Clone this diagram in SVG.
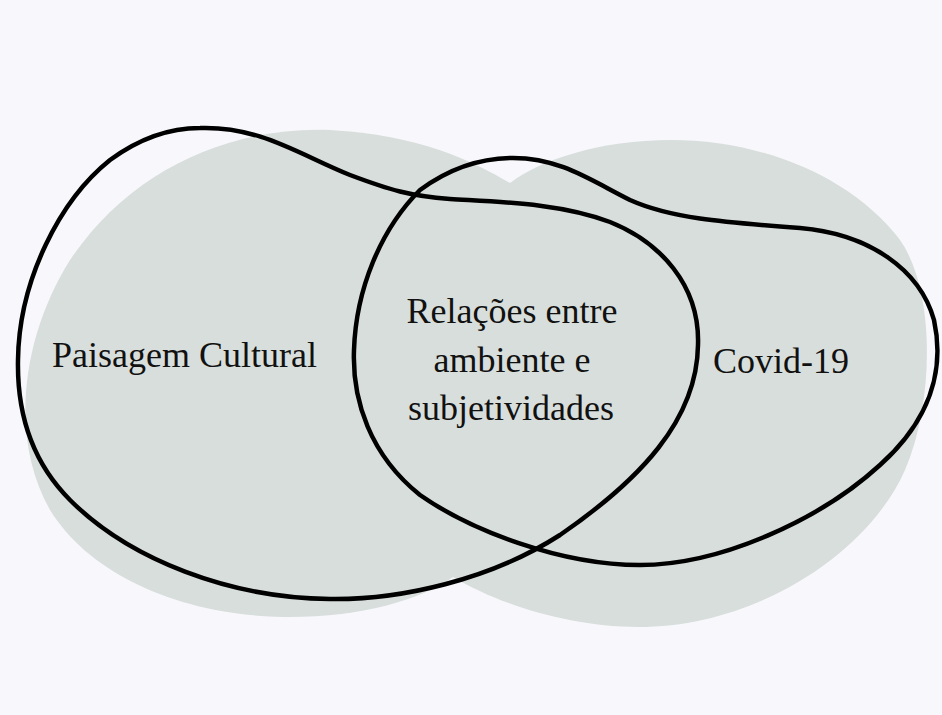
<svg xmlns="http://www.w3.org/2000/svg" width="942" height="715" viewBox="0 0 942 715">
<style>
.blob{fill:#d8dedb;stroke:none}
.outline{fill:none;stroke:#000;stroke-width:4.5;stroke-linejoin:round}
.lbl{font-family:"Liberation Serif","Times New Roman",serif;font-size:36px;fill:#111}
</style>
<rect x="0" y="0" width="942" height="715" fill="#f8f8fc"/>
<g id="blobs">
<path class="blob" d="M 510,183 C 470,160 420,135 330,130 C 230,126 130,170 70,260 C 20,340 10,440 50,510 C 90,575 180,615 283,617 C 360,618 420,600 453,577 C 530,500 550,280 510,183 Z"/>
<path class="blob" d="M 510,183 C 540,160 600,140 671,140 C 760,140 850,175 900,240 C 935,290 935,400 905,470 C 870,550 760,627 638,627 C 570,627 500,605 453,577 C 410,450 430,300 510,183 Z"/>
</g>
<g id="connectors"></g>
<g id="paisagem">
<path class="outline" d="M 200,128 C 260,126 300,155 350,175 C 390,190 410,196 450,199 C 500,202 560,203 610,222 C 660,242 700,285 698,345 C 697,420 640,480 560,535 C 490,580 400,600 330,599 C 230,598 130,560 70,500 C 30,460 17,410 18,360 C 19,280 60,200 110,160 C 140,138 170,128 200,128 Z"/>
<text class="lbl" x="52" y="367">Paisagem Cultural</text>
</g>
<g id="covid">
<path class="outline" d="M 513,158 C 560,158 590,180 630,200 C 670,218 720,222 800,228 C 870,234 920,270 934,320 C 945,370 930,420 880,465 C 820,520 720,565 640,565 C 560,565 470,530 420,495 C 370,455 352,400 354,350 C 356,290 380,230 420,190 C 450,168 480,158 513,158 Z"/>
<text class="lbl" x="713" y="373">Covid-19</text>
</g>
<g id="intersecao">
<text class="lbl" text-anchor="middle"><tspan x="512" y="323">Relações entre</tspan><tspan x="512" y="372">ambiente e</tspan><tspan x="511" y="420">subjetividades</tspan></text>
</g>
</svg>
